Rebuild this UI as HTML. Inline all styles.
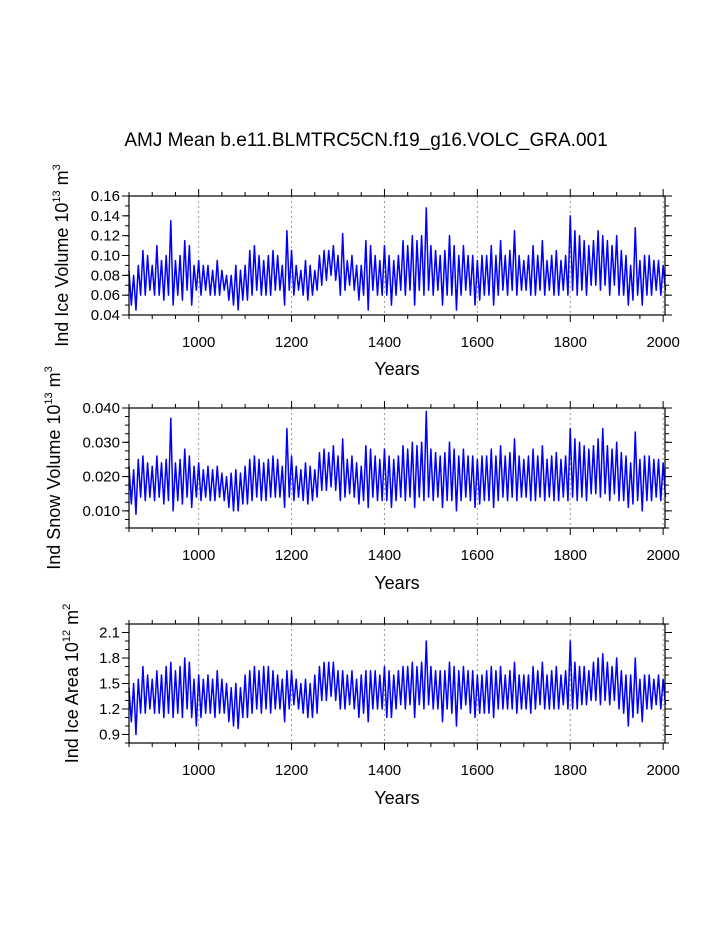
<!DOCTYPE html>
<html><head><meta charset="utf-8"><style>
body{margin:0;background:#fff}
svg{display:block;font-family:"Liberation Sans",Arial,sans-serif}
</style></head><body>
<svg id="fig" width="723" height="935" viewBox="0 0 723 935">
<text x="366" y="146" font-size="19" text-anchor="middle">AMJ Mean b.e11.BLMTRC5CN.f19_g16.VOLC_GRA.001</text>
</svg>
<script>
const startYear = 850, stepYears = 5;
const iceVolume = [.085,.05,.08,.045,.09,.06,.105,.06,.10,.065,.09,.06,.11,.06,.095,.055,.10,.06,.135,.05,.095,.06,.10,.055,.115,.065,.11,.05,.09,.065,.095,.06,.09,.065,.09,.06,.085,.06,.095,.06,.085,.065,.08,.055,.08,.05,.09,.045,.085,.055,.09,.055,.105,.06,.11,.065,.10,.06,.095,.06,.10,.06,.105,.065,.10,.065,.09,.05,.125,.065,.105,.06,.09,.065,.085,.06,.095,.055,.09,.06,.085,.065,.10,.07,.105,.075,.105,.08,.11,.075,.10,.06,.122,.065,.095,.07,.10,.065,.09,.055,.09,.06,.115,.045,.11,.065,.10,.06,.095,.06,.11,.06,.10,.05,.095,.06,.10,.065,.115,.06,.11,.065,.12,.05,.115,.065,.12,.06,.148,.065,.11,.06,.105,.065,.10,.05,.105,.06,.12,.06,.11,.045,.10,.06,.11,.065,.10,.06,.10,.05,.095,.055,.10,.06,.10,.06,.11,.05,.10,.06,.115,.065,.10,.06,.105,.065,.125,.06,.10,.065,.095,.065,.10,.06,.11,.06,.10,.065,.115,.06,.095,.065,.10,.06,.105,.06,.095,.065,.10,.06,.14,.065,.125,.06,.12,.065,.115,.06,.11,.07,.115,.07,.125,.065,.12,.07,.115,.06,.11,.07,.12,.06,.105,.06,.10,.05,.09,.055,.128,.06,.095,.05,.10,.06,.10,.06,.095,.065,.095,.06,.09,.065];
const snowVolume = [.023,.012,.022,.009,.025,.014,.026,.013,.024,.014,.023,.013,.026,.014,.024,.012,.025,.013,.037,.010,.024,.013,.025,.012,.028,.014,.026,.011,.023,.014,.024,.013,.022,.014,.023,.013,.022,.013,.023,.014,.021,.013,.020,.011,.021,.010,.022,.010,.021,.012,.023,.012,.025,.013,.026,.014,.025,.013,.024,.013,.025,.014,.026,.014,.025,.014,.023,.011,.034,.014,.026,.013,.023,.014,.022,.013,.024,.012,.023,.013,.022,.014,.027,.016,.028,.016,.027,.017,.029,.016,.026,.013,.031,.014,.025,.015,.026,.014,.024,.012,.023,.013,.029,.011,.028,.014,.026,.013,.025,.013,.028,.013,.026,.011,.025,.013,.026,.014,.029,.013,.028,.014,.030,.011,.029,.014,.030,.013,.039,.014,.028,.013,.027,.014,.026,.011,.027,.013,.030,.013,.028,.010,.026,.013,.028,.014,.026,.013,.026,.011,.025,.012,.026,.013,.026,.013,.028,.011,.026,.013,.029,.014,.026,.013,.027,.014,.031,.013,.026,.014,.025,.014,.026,.013,.028,.013,.026,.014,.029,.013,.025,.014,.026,.013,.027,.013,.025,.014,.026,.013,.034,.014,.031,.013,.030,.014,.029,.013,.028,.015,.029,.015,.031,.014,.034,.015,.029,.013,.028,.015,.030,.013,.027,.013,.026,.011,.024,.012,.033,.013,.025,.010,.026,.013,.026,.013,.025,.014,.025,.013,.024,.014];
const iceArea = [1.45,1.05,1.5,0.9,1.55,1.15,1.7,1.15,1.6,1.2,1.55,1.15,1.65,1.15,1.6,1.1,1.7,1.15,1.75,1.1,1.65,1.15,1.7,1.1,1.8,1.2,1.75,1.1,1.55,1.0,1.6,1.1,1.55,1.15,1.6,1.15,1.55,1.1,1.65,1.15,1.55,1.15,1.5,1.05,1.45,1.0,1.5,0.97,1.45,1.1,1.6,1.1,1.65,1.15,1.7,1.2,1.65,1.15,1.7,1.2,1.7,1.15,1.65,1.2,1.6,1.2,1.55,1.05,1.65,1.2,1.65,1.25,1.55,1.2,1.5,1.15,1.55,1.1,1.5,1.1,1.6,1.15,1.7,1.3,1.75,1.3,1.75,1.35,1.75,1.3,1.65,1.2,1.65,1.2,1.6,1.25,1.65,1.2,1.55,1.1,1.6,1.15,1.65,1.05,1.65,1.2,1.65,1.2,1.6,1.2,1.7,1.1,1.65,1.1,1.6,1.2,1.65,1.25,1.7,1.2,1.7,1.25,1.75,1.1,1.7,1.25,1.75,1.2,2.0,1.25,1.7,1.2,1.65,1.2,1.65,1.05,1.65,1.2,1.75,1.15,1.7,1.0,1.65,1.2,1.7,1.25,1.65,1.15,1.65,1.1,1.6,1.15,1.6,1.15,1.65,1.15,1.7,1.1,1.65,1.2,1.7,1.2,1.6,1.2,1.65,1.2,1.75,1.15,1.6,1.2,1.6,1.2,1.6,1.15,1.7,1.2,1.65,1.25,1.75,1.2,1.6,1.2,1.65,1.2,1.7,1.2,1.6,1.25,1.65,1.2,2.0,1.2,1.75,1.2,1.7,1.25,1.7,1.25,1.65,1.3,1.75,1.3,1.8,1.25,1.85,1.3,1.75,1.25,1.7,1.3,1.8,1.2,1.65,1.15,1.6,1.0,1.6,1.1,1.8,1.15,1.55,1.05,1.6,1.2,1.6,1.2,1.55,1.25,1.6,1.2,1.55,1.25];
const xTickLabels = ["1000","1200","1400","1600","1800","2000"];
const xTickValues = [1000,1200,1400,1600,1800,2000];
const yTicks1 = [0.04,0.06,0.08,0.10,0.12,0.14,0.16];
const yTickLabels1 = ["0.04","0.06","0.08","0.10","0.12","0.14","0.16"];
const yTicks2 = [0.010,0.020,0.030,0.040];
const yTickLabels2 = ["0.010","0.020","0.030","0.040"];
const yTicks3 = [0.9,1.2,1.5,1.8,2.1];
const yTickLabels3 = ["0.9","1.2","1.5","1.8","2.1"];

const NS="http://www.w3.org/2000/svg";
const svg=document.getElementById('fig');
const X0=129,X1=665,XMIN=850,XMAX=2004;
const xs=v=>X0+(v-XMIN)/(XMAX-XMIN)*(X1-X0);
function el(tag,attrs,parent){const e=document.createElementNS(NS,tag);for(const k in attrs)e.setAttribute(k,attrs[k]);(parent||svg).appendChild(e);return e;}

const panels=[
 {name:'ice-volume',top:196,bot:315,ymin:0.04,ymax:0.16,data:iceVolume,ticks:yTicks1,labels:yTickLabels1,minor:0.01,lab:'Ind Ice Volume 10',sup:'13',unit:'m',usup:'3',lx:62,yearsY:375},
 {name:'snow-volume',top:408,bot:528,ymin:0.005,ymax:0.040,data:snowVolume,ticks:yTicks2,labels:yTickLabels2,minor:0.0025,lab:'Ind Snow Volume 10',sup:'13',unit:'m',usup:'3',lx:54,yearsY:589},
 {name:'ice-area',top:624,bot:743,ymin:0.8,ymax:2.2,data:iceArea,ticks:yTicks3,labels:yTickLabels3,minor:0.1,lab:'Ind Ice Area 10',sup:'12',unit:'m',usup:'2',lx:72,yearsY:804}
];
panels.forEach(p=>{
 const ys=v=>p.bot-(v-p.ymin)/(p.ymax-p.ymin)*(p.bot-p.top);
 const g=el('g',{});
 
 
 xTickValues.forEach(v=>{const l=el('line',{x1:xs(v),x2:xs(v),y1:p.top,y2:p.bot,stroke:'#999','stroke-width':1,'stroke-dasharray':'2,3'},g);
  
  });
 const pts=p.data.map((v,i)=>xs(startYear+i*stepYears).toFixed(2)+','+ys(v).toFixed(2)).join(' ');
 const pl=el('polyline',{points:pts,fill:'none',stroke:'#0000ff','stroke-width':1.5,'stroke-linejoin':'round'},g);
 
 
 const r=el('rect',{x:X0,y:p.top,width:X1-X0,height:p.bot-p.top,fill:'none',stroke:'#000','stroke-width':1.2},g);
 
 
 for(let v=850;v<=2000;v+=50){const maj=v%200===0;const L=maj?7:4;
  el('line',{x1:xs(v),x2:xs(v),y1:p.bot,y2:p.bot+L,stroke:'#000','stroke-width':1},g);
  el('line',{x1:xs(v),x2:xs(v),y1:p.top,y2:p.top-L,stroke:'#000','stroke-width':1},g);}
 xTickValues.forEach((v,i)=>{const t=el('text',{x:xs(v),y:p.bot+32,'font-size':15,'text-anchor':'middle'},g);t.textContent=xTickLabels[i];
  
  });
 for(let v=p.ymin;v<=p.ymax+1e-9;v+=p.minor){const y=ys(v);if(y<p.top-0.5)break;
  el('line',{x1:X0-4,x2:X0,y1:y,y2:y,stroke:'#000','stroke-width':1},g);
  el('line',{x1:X1,x2:X1+4,y1:y,y2:y,stroke:'#000','stroke-width':1},g);}
 p.ticks.forEach((v,i)=>{const y=ys(v);
  el('line',{x1:X0-7,x2:X0,y1:y,y2:y,stroke:'#000','stroke-width':1},g);
  el('line',{x1:X1,x2:X1+7,y1:y,y2:y,stroke:'#000','stroke-width':1},g);
  const t=el('text',{x:X0-9,y:y+5,'font-size':15,'text-anchor':'end'},g);t.textContent=p.labels[i];
  
  });
 const xt=el('text',{x:397,y:p.yearsY,'font-size':18,'text-anchor':'middle'},g);xt.textContent='Years';
 
 
 const cy=(p.top+p.bot)/2;
 const yt=el('text',{x:0,y:0,'font-size':18,'text-anchor':'middle',transform:`translate(${p.lx+6},${cy}) rotate(-90)`},g);
 
 
 const a=document.createElementNS(NS,'tspan');a.textContent=p.lab;yt.appendChild(a);
 const b=document.createElementNS(NS,'tspan');b.setAttribute('dy','-8');b.setAttribute('font-size','11');b.textContent=p.sup;yt.appendChild(b);
 const c=document.createElementNS(NS,'tspan');c.setAttribute('dy','8');c.textContent=' '+p.unit;yt.appendChild(c);
 const d=document.createElementNS(NS,'tspan');d.setAttribute('dy','-8');d.setAttribute('font-size','11');d.textContent=p.usup;yt.appendChild(d);
});
</script>
</body></html>
